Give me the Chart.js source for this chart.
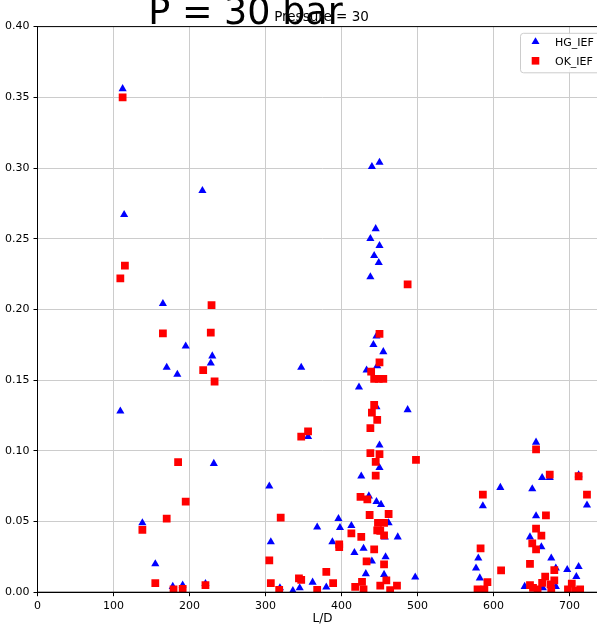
<!DOCTYPE html>
<html>
<head>
<meta charset="utf-8">
<title>P = 30 bar</title>
<script src="https://cdn.jsdelivr.net/npm/chart.js@4.4.0/dist/chart.umd.min.js"></script>
<style>
  html, body { margin: 0; padding: 0; background: #fff; overflow: hidden; }
  #wrap { width: 643px; height: 628px; }
</style>
</head>
<body>
<div id="wrap"><canvas id="scatter-chart" width="643" height="628"></canvas></div>
<script>
// values: [L/D, IEF]
var hgPoints = [
    [112, 0.356], [114, 0.267], [109, 0.128], [138, 0.049], [155, 0.020], [165, 0.204], [170, 0.159], [184, 0.154],
    [195, 0.174], [178, 0.004], [191, 0.005], [217, 0.284], [221, 0.006], [230, 0.167], [228, 0.162], [232, 0.091],
    [305, 0.075], [307, 0.0355], [319, 0.003], [336, 0.001], [345, 0.003], [347, 0.159], [356, 0.110], [362, 0.007],
    [368, 0.046], [380, 0.0035], [388, 0.0355], [396, 0.052], [398, 0.0456], [413, 0.047], [417, 0.028], [423, 0.145],
    [426, 0.082], [429, 0.031], [432, 0.013], [433, 0.157], [436, 0.068], [438, 0.250], [438, 0.223], [440, 0.301],
    [440, 0.022], [442, 0.175], [443, 0.238], [445, 0.257], [446, 0.181], [446, 0.131], [446, 0.064], [447, 0.160],
    [449, 0.233], [450, 0.304], [450, 0.245], [450, 0.104], [450, 0.088], [452, 0.062], [455, 0.170], [456, 0.0125],
    [457, 0.039], [458, 0.025], [462, 0.049], [474, 0.039], [487, 0.129], [497, 0.0106],
    [577, 0.017], [580, 0.024], [582, 0.010], [586, 0.061], [609, 0.074], [641, 0.004], [648, 0.039], [651, 0.073],
    [656, 0.106], [656, 0.054], [663, 0.032], [664, 0.081], [665, 0.003], [674, 0.081], [676, 0.024], [682, 0.017],
    [682, 0.004], [697, 0.016], [709, 0.011], [712, 0.083], [712, 0.018], [723, 0.0615]
];
var okPoints = [
    [112, 0.350], [115, 0.231], [109, 0.222], [138, 0.044], [155, 0.0064], [165, 0.183], [170, 0.052], [179, 0.002],
    [185, 0.092], [191, 0.0023], [195, 0.064], [218, 0.157], [221, 0.005], [228, 0.1835], [229, 0.203], [233, 0.149],
    [305, 0.0225], [307, 0.0064], [318, 0.0016], [320, 0.0527], [344, 0.0097], [347, 0.0087], [347, 0.110], [356, 0.1137],
    [368, 0.0016], [380, 0.0144], [389, 0.0064], [397, 0.0338], [397, 0.0319], [413, 0.0416], [418, 0.0038], [425, 0.0674],
    [426, 0.0392], [427, 0.0073], [429, 0.002], [433, 0.0218], [434, 0.0657], [437, 0.0546], [438, 0.0984], [438, 0.116],
    [439, 0.156], [440, 0.127], [443, 0.1324], [443, 0.0303], [443, 0.1508], [445, 0.0922], [445, 0.0825], [447, 0.1218],
    [447, 0.0438], [448, 0.049], [449, 0.1508], [450, 0.1827], [450, 0.1626], [450, 0.0977], [451, 0.0433], [451, 0.0047],
    [455, 0.1508], [456, 0.049], [456, 0.0402], [456, 0.0196], [459, 0.0083], [462, 0.0553], [464, 0.0014], [473, 0.0047],
    [487, 0.2177], [498, 0.0936],
    [579, 0.002], [583, 0.031], [586, 0.069], [588, 0.002], [592, 0.0072], [610, 0.0154], [648, 0.020], [648, 0.005],
    [651, 0.0345], [652, 0.003], [656, 0.101], [656, 0.045], [656, 0.0303], [658, 0.002], [663, 0.040], [664, 0.0066],
    [668, 0.011], [669, 0.0544], [674, 0.0832], [675, 0.0055], [676, 0.002], [680, 0.0156], [680, 0.0083], [698, 0.002],
    [703, 0.006], [708, 0.001], [712, 0.082], [714, 0.002], [723, 0.069]
];
var seriesNames = ['HG_IEF', 'OK_IEF'];
var xTicks = [0, 100, 200, 300, 400, 500, 600, 700];
var yTicks = [0, 0.05, 0.10, 0.15, 0.20, 0.25, 0.30, 0.35, 0.40];

Chart.defaults.font.family = '"DejaVu Sans", sans-serif';
Chart.defaults.color = '#000';

function toXY(list) {
    return list.map(function (p) { return { x: p[0], y: p[1] }; });
}

// matplotlib-like frame, legend box and the two titles
var extrasPlugin = {
    id: 'extras',
    afterDraw: function (chart) {
        var ctx = chart.ctx;
        var a = chart.chartArea;
        ctx.save();
        ctx.strokeStyle = '#000';
        ctx.lineWidth = 1;
        ctx.strokeRect(a.left, a.top, a.right - a.left, a.bottom - a.top);

        // legend
        var bx = a.right - 87, by = a.top + 6.7, bw = 110, bh = 39.5, r = 3;
        ctx.beginPath();
        ctx.moveTo(bx + r, by);
        ctx.lineTo(bx + bw - r, by);
        ctx.arcTo(bx + bw, by, bx + bw, by + r, r);
        ctx.lineTo(bx + bw, by + bh - r);
        ctx.arcTo(bx + bw, by + bh, bx + bw - r, by + bh, r);
        ctx.lineTo(bx + r, by + bh);
        ctx.arcTo(bx, by + bh, bx, by + bh - r, r);
        ctx.lineTo(bx, by + r);
        ctx.arcTo(bx, by, bx + r, by, r);
        ctx.closePath();
        ctx.fillStyle = 'rgba(255,255,255,0.85)';
        ctx.fill();
        ctx.strokeStyle = '#cccccc';
        ctx.stroke();

        var mx = bx + 15, y1 = by + 8.5, y2 = by + 27.5;
        ctx.fillStyle = '#0000ff';
        ctx.beginPath();
        ctx.moveTo(mx, y1 - 4.6);
        ctx.lineTo(mx + 4, y1 + 2.3);
        ctx.lineTo(mx - 4, y1 + 2.3);
        ctx.closePath();
        ctx.fill();
        ctx.fillStyle = '#ff0000';
        ctx.fillRect(mx - 3.8, y2 - 3.8, 7.6, 7.6);

        ctx.fillStyle = '#000';
        ctx.font = '11px "DejaVu Sans"';
        ctx.textAlign = 'left';
        ctx.textBaseline = 'middle';
        ctx.fillText(seriesNames[0], bx + 34.5, y1 + 1);
        ctx.fillText(seriesNames[1], bx + 34.5, y2 + 1);

        // axes title, centred on the (partly cut) axes
        ctx.textAlign = 'center';
        ctx.textBaseline = 'alphabetic';
        ctx.font = '13.5px "DejaVu Sans"';
        ctx.fillText('Pressure = 30', (a.left + a.right) / 2 - 1, 20.5);

        // figure title
        ctx.font = '36.5px "DejaVu Sans"';
        ctx.fillText('P = 30 bar', 245.5, 23.5);
        ctx.restore();
    }
};

var ctx = document.getElementById('scatter-chart').getContext('2d');
var chart = new Chart(ctx, {
    type: 'scatter',
    data: {
        datasets: [
            {
                label: seriesNames[0],
                data: toXY(hgPoints),
                pointStyle: 'triangle',
                pointRadius: 4.7,
                pointHoverRadius: 4.7,
                backgroundColor: '#0000ff',
                borderColor: '#0000ff',
                borderWidth: 0,
                order: 1,
                clip: 0
            },
            {
                label: seriesNames[1],
                data: toXY(okPoints),
                pointStyle: 'rect',
                pointRadius: 5.5,
                pointHoverRadius: 5.5,
                backgroundColor: '#ff0000',
                borderColor: '#ff0000',
                borderWidth: 0,
                order: 0,
                clip: 0
            }
        ]
    },
    options: {
        responsive: false,
        animation: false,
        events: [],
        layout: { padding: { left: 0, right: 35.5, top: 26.6, bottom: 0 } },
        plugins: {
            legend: { display: false },
            tooltip: { enabled: false }
        },
        scales: {
            x: {
                type: 'linear',
                min: 0,
                max: 750,
                afterBuildTicks: function (scale) {
                    scale.ticks = xTicks.map(function (v) { return { value: v }; });
                },
                afterFit: function (scale) { scale.height = 35.8; },
                ticks: { font: { size: 11 }, color: '#000', padding: 3, maxRotation: 0 },
                grid: { color: '#cccccc', lineWidth: 1, tickLength: 4, tickColor: '#000' },
                border: { color: '#000', width: 1 },
                title: { display: true, text: 'L/D', font: { size: 12 }, color: '#000', padding: { top: 0, bottom: 2 } }
            },
            y: {
                type: 'linear',
                min: 0,
                max: 0.4,
                afterBuildTicks: function (scale) {
                    scale.ticks = yTicks.map(function (v) { return { value: v }; });
                },
                afterFit: function (scale) { scale.width = 37.5; },
                ticks: {
                    font: { size: 11 },
                    color: '#000',
                    padding: 4,
                    callback: function (v) { return Number(v).toFixed(2); }
                },
                grid: { color: '#cccccc', lineWidth: 1, tickLength: 4, tickColor: '#000' },
                border: { color: '#000', width: 1 }
            }
        }
    },
    plugins: [extrasPlugin]
});
</script>
</body>
</html>
